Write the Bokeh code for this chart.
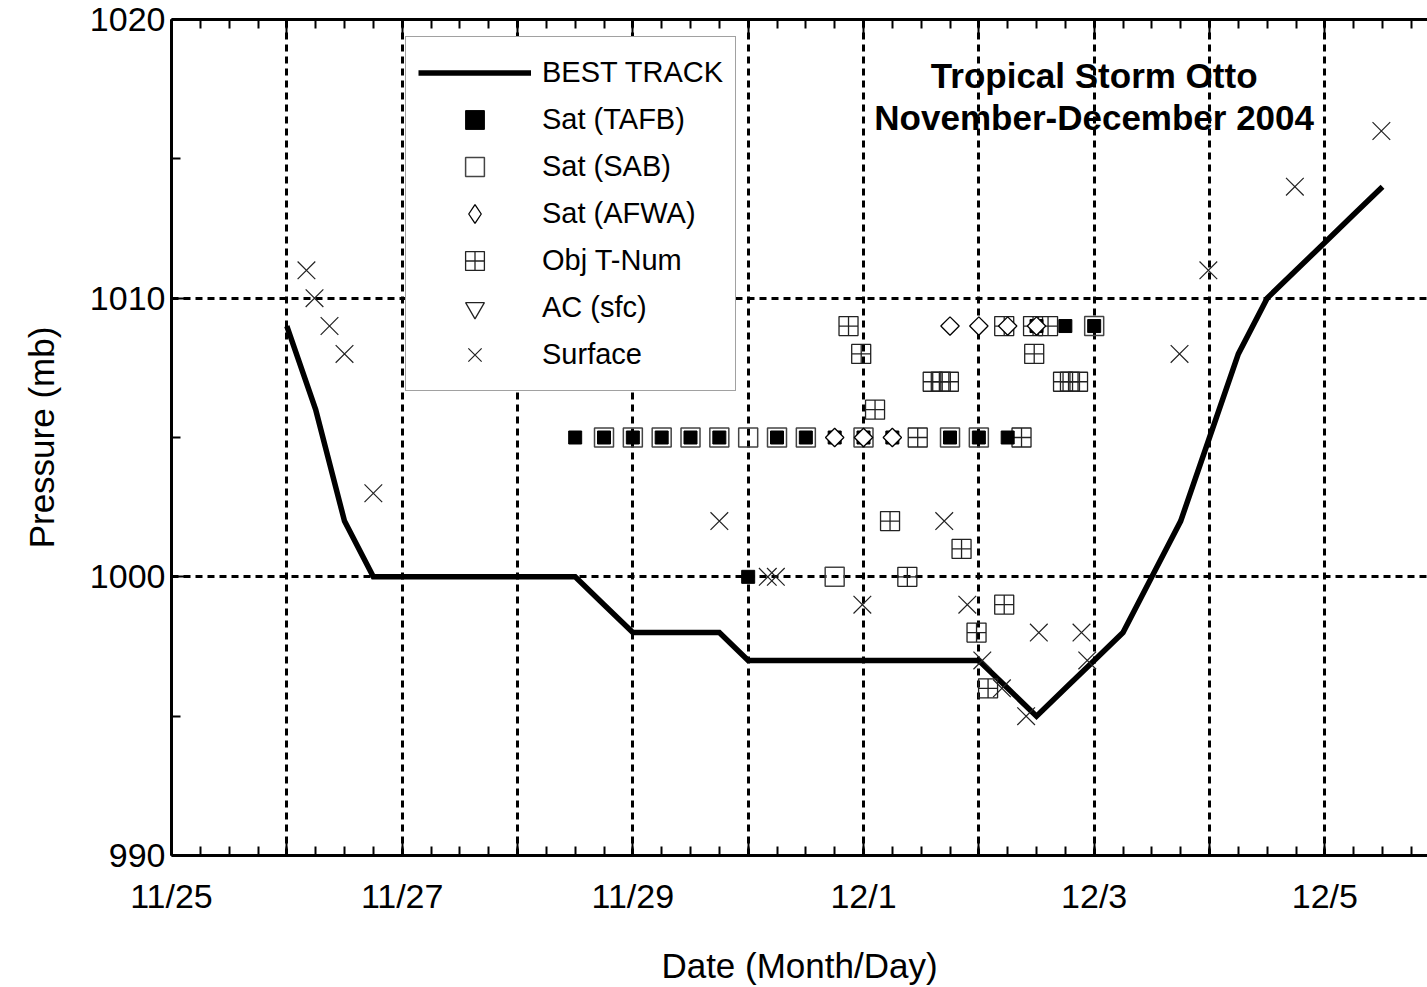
import math
from bokeh.plotting import figure
from bokeh.models import (FixedTicker, LinearAxis, Range1d, Legend, LegendItem, Label)
from bokeh.embed import file_html
from bokeh.resources import INLINE
from bokeh.core.properties import value

# ---- data (x = days since 11/25 00 UTC, y = pressure in mb) ----
bt_day = [1.0, 1.25, 1.5, 1.75, 2.0, 2.25, 2.5, 2.75, 3.0, 3.25, 3.5, 3.75,
          4.0, 4.25, 4.5, 4.75, 5.0, 5.25, 5.5, 5.75, 6.0, 6.25, 6.5, 6.75,
          7.0, 7.25, 7.5, 7.75, 8.0, 8.25, 8.5, 8.75, 9.0, 9.25, 9.5, 9.75,
          10.0, 10.25, 10.5]
bt_p = [1009, 1006, 1002, 1000, 1000, 1000, 1000, 1000, 1000, 1000, 1000, 999,
        998, 998, 998, 998, 997, 997, 997, 997, 997, 997, 997, 997,
        997, 996, 995, 996, 997, 998, 1000, 1002, 1005, 1008, 1010, 1011,
        1012, 1013, 1014]

tafb_day = [3.5, 3.75, 4.0, 4.25, 4.5, 4.75, 5.0, 5.25, 5.5, 5.75, 6.0, 6.25,
            6.75, 7.0, 7.25, 7.5, 7.75, 8.0]
tafb_p = [1005, 1005, 1005, 1005, 1005, 1005, 1000, 1005, 1005, 1005, 1005, 1005,
          1005, 1005, 1005, 1009, 1009, 1009]

sab_day = [3.75, 4.0, 4.25, 4.5, 4.75, 5.0, 5.25, 5.5, 5.75, 6.0, 6.75, 7.0, 8.0]
sab_p = [1005, 1005, 1005, 1005, 1005, 1005, 1005, 1005, 1000, 1005, 1005, 1005, 1009]

afwa_day = [5.75, 6.0, 6.25, 6.75, 7.0, 7.25, 7.5]
afwa_p = [1005, 1005, 1005, 1009, 1009, 1009, 1009]

objt_day = [5.87, 5.98, 6.10, 6.23, 6.38, 6.47, 6.60, 6.67, 6.74, 6.85, 6.98,
            7.08, 7.22, 7.22, 7.37, 7.47, 7.48, 7.60, 7.73, 7.79, 7.86]
objt_p = [1009, 1008, 1006, 1002, 1000, 1005, 1007, 1007, 1007, 1001, 998,
          996, 999, 1009, 1005, 1009, 1008, 1009, 1007, 1007, 1007]

ac_day = []
ac_p = []

sfc_day = [1.17, 1.24, 1.37, 1.50, 1.75, 4.75, 5.17, 5.24, 5.99, 6.70, 6.90,
           7.03, 7.20, 7.41, 7.52, 7.89, 7.94, 8.74, 8.99, 9.74, 10.49]
sfc_p = [1011, 1010, 1009, 1008, 1003, 1002, 1000, 1000, 999, 1002, 999,
         997, 996, 995, 998, 998, 997, 1008, 1011, 1014, 1016]

x_tick_days = [0, 1, 2, 3, 4, 5, 6, 7, 8, 9, 10]
x_tick_labels = ["11/25", "", "11/27", "", "11/29", "", "12/1", "", "12/3", "", "12/5"]
x_minor_days = [d / 4 for d in range(0, 44)]
y_ticks = [990, 1000, 1010, 1020]
y_minor = [995, 1005, 1015]

title_lines = ["Tropical Storm Otto", "November-December 2004"]

NAN = [float("nan")]

p = figure(width=1427, height=987, x_range=Range1d(0, 10.89), y_range=Range1d(990, 1020),
           output_backend="svg", toolbar_location=None,
           min_border_left=171, min_border_right=0, min_border_top=19, min_border_bottom=131)
p.outline_line_color = None
p.background_fill_color = "white"
p.border_fill_color = "white"

xt = FixedTicker(ticks=x_tick_days, minor_ticks=x_minor_days)
yt = FixedTicker(ticks=y_ticks, minor_ticks=y_minor)

def style_axis(ax):
    ax.axis_line_width = 3
    ax.axis_line_color = "black"
    ax.major_tick_in = 15
    ax.major_tick_out = 0
    ax.minor_tick_in = 9
    ax.minor_tick_out = 0
    ax.major_tick_line_width = 2
    ax.minor_tick_line_width = 2
    ax.major_tick_line_color = "black"
    ax.minor_tick_line_color = "black"
    ax.major_label_text_font = "Liberation Sans"
    ax.major_label_text_font_size = "34px"
    ax.major_label_text_color = "black"
    ax.axis_label_text_font = "Liberation Sans"
    ax.axis_label_text_font_size = "35px"
    ax.axis_label_text_font_style = "normal"
    ax.axis_label_text_color = "black"

xa = p.xaxis[0]
xa.ticker = xt
xa.major_label_overrides = {d: lab for d, lab in zip(x_tick_days, x_tick_labels)}
xa.axis_label = "Date (Month/Day)"
style_axis(xa)
xa.major_label_standoff = 21
xa.axis_label_standoff = 28

ya = p.yaxis[0]
ya.ticker = yt
ya.axis_label = "Pressure (mb)"
style_axis(ya)
ya.major_label_standoff = 6
ya.axis_label_standoff = 26

top = LinearAxis(ticker=xt)
style_axis(top)
top.major_label_text_font_size = "0px"
top.major_label_standoff = 0
top.major_label_overrides = {d: "" for d in x_tick_days}
p.add_layout(top, "above")

for g in (p.xgrid[0], p.ygrid[0]):
    g.grid_line_color = "black"
    g.grid_line_width = 3
    g.grid_line_dash = "7 5"
p.xgrid[0].ticker = xt
p.ygrid[0].ticker = yt

# best track
bt = p.line(bt_day, bt_p, line_width=5.5, line_color="black", line_join="miter")

# observations
p.scatter(objt_day, objt_p, marker="square_cross", size=19, fill_color=None,
          line_color="#222222", line_width=1.3)
p.scatter(tafb_day, tafb_p, marker="square", size=13, fill_color="black",
          line_color="black", line_width=1)
p.scatter(sab_day, sab_p, marker="square", size=19, fill_color=None,
          line_color="#444444", line_width=1.5)
p.scatter(afwa_day, afwa_p, marker="square", angle=math.pi / 4, size=13,
          fill_color="white", line_color="black", line_width=1.3)
p.scatter(ac_day, ac_p, marker="inverted_triangle", size=16, fill_color=None,
          line_color="black")
p.scatter(sfc_day, sfc_p, marker="x", size=25, line_color="#222222", line_width=1.2)

# legend-only renderers (a single NaN point: nothing drawn in the plot area)
l_tafb = p.scatter(NAN, NAN, marker="square", size=14, fill_color="black", line_color="black", line_width=1)
l_sab = p.scatter(NAN, NAN, marker="square", size=18, fill_color=None, line_color="#444444", line_width=1.5)
l_afwa = p.scatter(NAN, NAN, marker="diamond", size=22, fill_color="white",
                   line_color="black", line_width=1.3)
l_objt = p.scatter(NAN, NAN, marker="square_cross", size=19, fill_color=None, line_color="#222222", line_width=1.3)
l_ac = p.scatter(NAN, NAN, marker="inverted_triangle", size=19, fill_color=None, line_color="#222222", line_width=1.3)
l_sfc = p.scatter(NAN, NAN, marker="x", size=25, line_color="#222222", line_width=1.2)

legend = Legend(items=[
    LegendItem(label="BEST TRACK", renderers=[bt]),
    LegendItem(label="Sat (TAFB)", renderers=[l_tafb]),
    LegendItem(label="Sat (SAB)", renderers=[l_sab]),
    LegendItem(label="Sat (AFWA)", renderers=[l_afwa]),
    LegendItem(label="Obj T-Num", renderers=[l_objt]),
    LegendItem(label="AC (sfc)", renderers=[l_ac]),
    LegendItem(label="Surface", renderers=[l_sfc]),
], location=(234, 464), padding=12, spacing=0, margin=0,
    glyph_width=113, glyph_height=47, label_height=47, label_standoff=11,
    label_text_font="Liberation Sans", label_text_font_size="29px", label_text_color="black",
    border_line_color="#444444", border_line_width=1.5,
    background_fill_color="white", background_fill_alpha=1.0)
p.add_layout(legend)

p.add_layout(Label(x=8.0, y=1018.0, text=title_lines[0], text_align="center",
                   text_baseline="middle", text_font="Liberation Sans", text_font_size="35px",
                   text_font_style="bold", text_color="black"))
p.add_layout(Label(x=8.0, y=1016.5, text=title_lines[1], text_align="center",
                   text_baseline="middle", text_font="Liberation Sans", text_font_size="35px",
                   text_font_style="bold", text_color="black"))

open("out.html", "w").write(file_html(p, INLINE))
